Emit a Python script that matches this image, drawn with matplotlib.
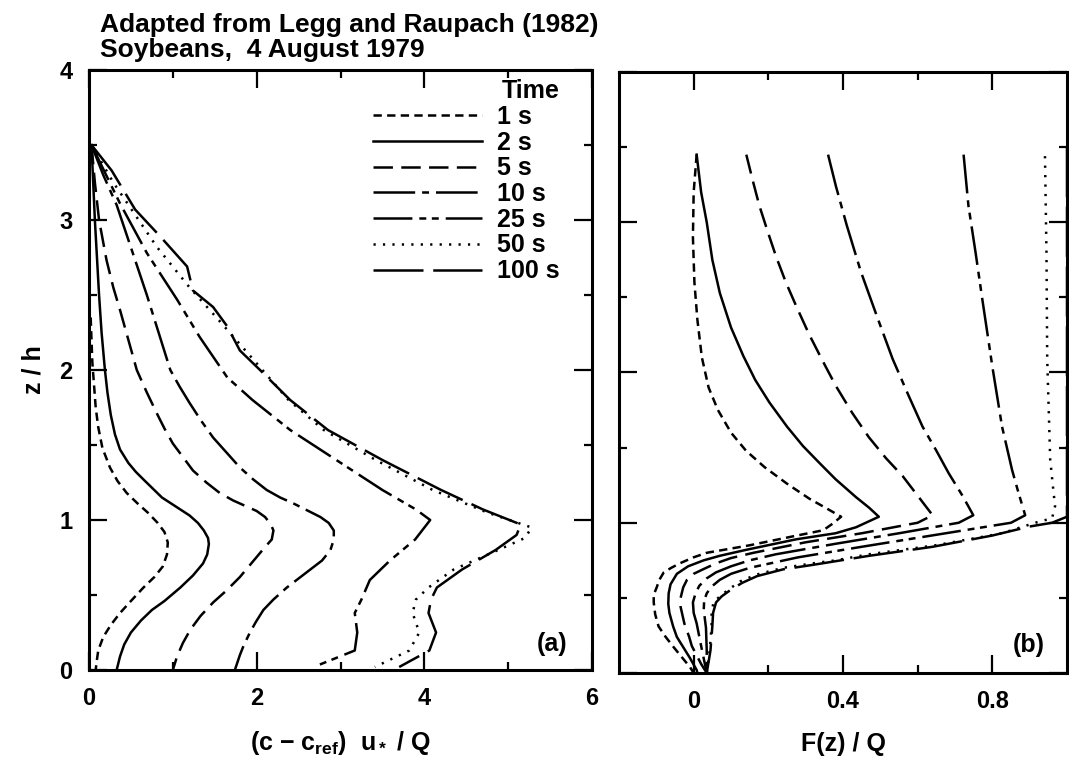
import matplotlib
matplotlib.use("Agg")
import matplotlib.pyplot as plt
from matplotlib.ticker import MultipleLocator, FixedLocator, NullFormatter

plt.rcParams['font.family'] = ['Liberation Sans', 'DejaVu Sans']
plt.rcParams['font.weight'] = 'bold'
plt.rcParams['axes.labelweight'] = 'bold'
plt.rcParams['mathtext.fontset'] = 'custom'
plt.rcParams['mathtext.rm'] = 'Liberation Sans:bold'
plt.rcParams['mathtext.it'] = 'Liberation Sans:bold'
plt.rcParams['mathtext.bf'] = 'Liberation Sans:bold'
plt.rcParams['mathtext.default'] = 'rm'
plt.rcParams['lines.scale_dashes'] = False

# ---------------- data ----------------
labels = ["1 s", "2 s", "5 s", "10 s", "25 s", "50 s", "100 s"]

# Panel (a): concentration profiles (x = (c - c_ref) u*/Q, z = z/h)
a1_z = [2.35, 2.2, 2.05, 1.9, 1.75, 1.62, 1.48, 1.35, 1.26, 1.18, 1.11, 1.05, 0.98, 0.92, 0.85, 0.77, 0.69, 0.62, 0.55, 0.46, 0.38, 0.30, 0.22, 0.13, 0.05, 0.0]
a1_x = [0.02, 0.03, 0.04, 0.06, 0.08, 0.11, 0.16, 0.25, 0.34, 0.45, 0.58, 0.70, 0.82, 0.90, 0.94, 0.93, 0.88, 0.78, 0.65, 0.50, 0.37, 0.26, 0.17, 0.11, 0.09, 0.08]

a2_z = [3.5, 3.25, 3.0, 2.75, 2.5, 2.25, 2.0, 1.85, 1.7, 1.57, 1.47, 1.38, 1.32, 1.27, 1.21, 1.15, 1.11, 1.07, 1.03, 0.98, 0.93, 0.88, 0.84, 0.77, 0.71, 0.63, 0.55, 0.46, 0.40, 0.33, 0.25, 0.17, 0.09, 0.0]
a2_x = [0.03, 0.05, 0.07, 0.095, 0.12, 0.15, 0.19, 0.22, 0.26, 0.31, 0.37, 0.47, 0.56, 0.65, 0.76, 0.87, 0.98, 1.09, 1.2, 1.3, 1.37, 1.42, 1.43, 1.41, 1.36, 1.24, 1.09, 0.9, 0.75, 0.62, 0.5, 0.42, 0.37, 0.33]

a5_z = [3.5, 3.25, 3.0, 2.73, 2.55, 2.4, 2.2, 2.0, 1.85, 1.71, 1.61, 1.51, 1.42, 1.33, 1.25, 1.18, 1.13, 1.09, 1.06, 1.02, 0.97, 0.93, 0.87, 0.82, 0.72, 0.62, 0.53, 0.45, 0.36, 0.27, 0.18, 0.09, 0.0]
a5_x = [0.03, 0.07, 0.12, 0.21, 0.29, 0.37, 0.47, 0.57, 0.69, 0.81, 0.9, 1.0, 1.12, 1.24, 1.4, 1.56, 1.72, 1.88, 2.0, 2.1, 2.17, 2.2, 2.18, 2.1, 1.95, 1.8, 1.64, 1.48, 1.33, 1.21, 1.12, 1.05, 1.0]

a10_z = [3.5, 3.3, 3.1, 2.8, 2.5, 2.25, 2.0, 1.89, 1.78, 1.66, 1.55, 1.45, 1.35, 1.27, 1.2, 1.15, 1.11, 1.065, 1.02, 0.98, 0.93, 0.87, 0.8, 0.73, 0.67, 0.61, 0.55, 0.47, 0.4, 0.32, 0.25, 0.17, 0.1, 0.0]
a10_x = [0.03, 0.17, 0.33, 0.51, 0.69, 0.83, 0.97, 1.08, 1.2, 1.34, 1.48, 1.64, 1.8, 1.96, 2.12, 2.28, 2.44, 2.6, 2.76, 2.86, 2.92, 2.92, 2.88, 2.78, 2.64, 2.5, 2.36, 2.2, 2.08, 1.99, 1.92, 1.85, 1.8, 1.74]

a25_z = [3.5, 3.11, 2.78, 2.47, 2.22, 1.95, 1.8, 1.6, 1.4, 1.2, 1.07, 1.0, 0.87, 0.73, 0.6, 0.47, 0.38, 0.25, 0.13, 0.02]
a25_x = [0.03, 0.37, 0.69, 1.05, 1.32, 1.65, 1.95, 2.4, 2.95, 3.5, 3.9, 4.07, 3.89, 3.59, 3.35, 3.25, 3.17, 3.2, 3.17, 2.68]

a50_z = [3.5, 3.25, 2.82, 2.55, 2.35, 2.07, 1.8, 1.6, 1.4, 1.2, 1.05, 0.95, 0.88, 0.78, 0.67, 0.55, 0.47, 0.38, 0.25, 0.13, 0.02]
a50_x = [0.03, 0.29, 0.81, 1.2, 1.52, 1.96, 2.38, 2.8, 3.42, 4.1, 4.75, 5.28, 5.2, 4.8, 4.35, 4.05, 3.9, 3.86, 3.94, 3.82, 3.41]

a100_z = [3.5, 3.33, 3.07, 2.89, 2.69, 2.53, 2.42, 2.29, 2.13, 2.0, 1.8, 1.6, 1.4, 1.2, 1.07, 0.97, 0.9, 0.8, 0.67, 0.55, 0.47, 0.38, 0.25, 0.13, 0.02]
a100_x = [0.03, 0.27, 0.55, 0.85, 1.17, 1.24, 1.48, 1.65, 1.8, 2.04, 2.4, 2.85, 3.5, 4.2, 4.7, 5.15, 5.1, 4.85, 4.45, 4.15, 4.08, 4.05, 4.14, 4.06, 3.7]

# Panel (b): flux profiles (F = F(z)/Q, z = z/h)
b1_z = [3.45, 3.2, 2.9, 2.6, 2.35, 2.1, 1.9, 1.75, 1.6, 1.48, 1.37, 1.26, 1.16, 1.09, 1.04, 0.99, 0.95, 0.91, 0.85, 0.80, 0.77, 0.73, 0.70, 0.67, 0.62, 0.57, 0.52, 0.47, 0.39, 0.31, 0.24, 0.17, 0.10, 0.04, 0.0]
b1_f = [0.008, 0.0, -0.002, 0.002, 0.01, 0.022, 0.04, 0.065, 0.1, 0.14, 0.19, 0.25, 0.31, 0.36, 0.395, 0.37, 0.347, 0.267, 0.15, 0.035, 0.0, -0.037, -0.06, -0.08, -0.092, -0.099, -0.107, -0.107, -0.103, -0.094, -0.075, -0.053, -0.03, -0.01, 0.0]

b2_z = [3.45, 3.2, 3.0, 2.75, 2.53, 2.3, 2.11, 1.95, 1.8, 1.64, 1.51, 1.39, 1.29, 1.17, 1.1, 1.04, 0.97, 0.93, 0.89, 0.82, 0.78, 0.75, 0.71, 0.66, 0.59, 0.53, 0.46, 0.40, 0.31, 0.24, 0.16, 0.10, 0.02, 0.0]
b2_f = [0.008, 0.02, 0.035, 0.05, 0.07, 0.1, 0.133, 0.165, 0.203, 0.25, 0.293, 0.34, 0.38, 0.435, 0.47, 0.496, 0.435, 0.38, 0.275, 0.141, 0.07, 0.027, -0.015, -0.045, -0.062, -0.067, -0.068, -0.065, -0.055, -0.045, -0.025, -0.01, 0.008, 0.01]

b5_z = [3.45, 3.28, 3.11, 2.94, 2.77, 2.6, 2.44, 2.25, 2.07, 1.91, 1.73, 1.57, 1.43, 1.31, 1.18, 1.05, 1.0, 0.93, 0.87, 0.80, 0.765, 0.73, 0.69, 0.66, 0.62, 0.57, 0.50, 0.44, 0.33, 0.24, 0.18, 0.06, 0.0]
b5_f = [0.141, 0.158, 0.176, 0.198, 0.221, 0.247, 0.275, 0.31, 0.347, 0.381, 0.425, 0.469, 0.515, 0.56, 0.60, 0.64, 0.60, 0.45, 0.30, 0.16, 0.10, 0.06, 0.025, 0.0, -0.018, -0.028, -0.035, -0.035, -0.025, -0.012, -0.005, 0.02, 0.035]

b10_z = [3.45, 3.24, 2.98, 2.67, 2.38, 2.09, 1.85, 1.64, 1.48, 1.33, 1.18, 1.05, 1.0, 0.93, 0.86, 0.79, 0.75, 0.71, 0.67, 0.63, 0.58, 0.53, 0.47, 0.40, 0.33, 0.18, 0.06, 0.0]
b10_f = [0.36, 0.381, 0.41, 0.448, 0.49, 0.533, 0.575, 0.613, 0.65, 0.683, 0.72, 0.749, 0.71, 0.55, 0.38, 0.22, 0.15, 0.10, 0.06, 0.035, 0.015, 0.005, -0.002, 0.0, 0.008, 0.02, 0.03, 0.035]

b25_z = [3.45, 3.11, 2.8, 2.49, 2.04, 1.64, 1.35, 1.2, 1.05, 1.0, 0.92, 0.84, 0.77, 0.70, 0.66, 0.62, 0.575, 0.53, 0.48, 0.42, 0.30, 0.15, 0.0]
b25_f = [0.723, 0.736, 0.755, 0.773, 0.80, 0.826, 0.853, 0.87, 0.888, 0.85, 0.65, 0.45, 0.28, 0.15, 0.10, 0.07, 0.048, 0.035, 0.028, 0.027, 0.033, 0.035, 0.035]

b50_z = [3.44, 2.8, 2.09, 1.42, 1.25, 1.11, 1.03, 1.0, 0.93, 0.85, 0.79, 0.75, 0.73, 0.70, 0.655, 0.61, 0.56, 0.51, 0.47, 0.40, 0.31, 0.15, 0.0]
b50_f = [0.941, 0.945, 0.947, 0.955, 0.962, 0.968, 0.96, 0.915, 0.826, 0.648, 0.469, 0.381, 0.32, 0.24, 0.168, 0.125, 0.096, 0.07, 0.053, 0.048, 0.048, 0.043, 0.035]

b100_z = [3.5, 1.04, 1.0, 0.975, 0.915, 0.84, 0.78, 0.72, 0.69, 0.645, 0.60, 0.555, 0.51, 0.47, 0.40, 0.31, 0.15, 0.0]
b100_f = [1.0, 1.0, 0.96, 0.9, 0.8, 0.64, 0.47, 0.32, 0.24, 0.17, 0.13, 0.10, 0.075, 0.06, 0.052, 0.05, 0.045, 0.035]

a_series = [(a1_x, a1_z), (a2_x, a2_z), (a5_x, a5_z), (a10_x, a10_z),
            (a25_x, a25_z), (a50_x, a50_z), (a100_x, a100_z)]
b_series = [(b1_f, b1_z), (b2_f, b2_z), (b5_f, b5_z), (b10_f, b10_z),
            (b25_f, b25_z), (b50_f, b50_z), (b100_f, b100_z)]

# ---------------- styles ----------------
styles = [
    (0, (6, 3.8)),                    # 1 s short dashes
    'solid',                          # 2 s
    (0, (14, 6)),                     # 5 s long dashes
    (0, (30, 5, 5, 5)),               # 10 s dash-dot
    (0, (28, 5, 5, 4, 5, 5)),         # 25 s dash-dot-dot
    (0, (1.6, 5.2)),                  # 50 s dotted
    (0, (36, 7)),                     # 100 s long dash
]
LW = 1.8
FS = 18

W, H = 1069, 759
fig = plt.figure(figsize=(W / 100, H / 100), dpi=100)

axa = fig.add_axes([89 / W, 1 - 670 / H, (592 - 89) / W, 600 / H])
axb = fig.add_axes([619 / W, 1 - 673 / H, (1067 - 619) / W, 601 / H])

for (x, z), ls, lab in zip(a_series, styles, labels):
    axa.plot(x, z, color='black', lw=LW, linestyle=ls, label=lab,
             dash_capstyle='butt', solid_joinstyle='round')
for (f, z), ls in zip(b_series, styles):
    axb.plot(f, z, color='black', lw=LW, linestyle=ls,
             dash_capstyle='butt', solid_joinstyle='round')

axa.set_xlim(0, 6)
axa.set_ylim(0, 4)
axb.set_xlim(-0.2, 1.0)
axb.set_ylim(0, 4)

for ax in (axa, axb):
    for sp in ax.spines.values():
        sp.set_linewidth(2.2)
    ax.tick_params(which='both', direction='in', top=True, right=True,
                   width=1.6, labelsize=17, pad=12)
    ax.tick_params(which='major', length=13)
    ax.tick_params(which='minor', length=5.5)
    ax.yaxis.set_major_locator(MultipleLocator(1))
    ax.yaxis.set_minor_locator(MultipleLocator(0.5))

axa.xaxis.set_major_locator(FixedLocator([0, 2, 4, 6]))
axa.xaxis.set_minor_locator(FixedLocator([1, 3, 5]))
axb.xaxis.set_major_locator(FixedLocator([0, 0.4, 0.8]))
axb.xaxis.set_minor_locator(FixedLocator([0.2, 0.6]))
axb.xaxis.set_major_formatter(plt.FuncFormatter(lambda v, p: '0' if v == 0 else f'{v:.1f}'))
axb.yaxis.set_major_formatter(NullFormatter())

axa.set_xlabel(r'(c $-$ c$_{\rm ref}$)  u$_*$ / Q', fontsize=FS, labelpad=14,
               fontweight='bold')
axb.set_xlabel('F(z) / Q', fontsize=FS, labelpad=14, fontweight='bold')
axa.set_ylabel('z / h', fontsize=FS, labelpad=10, fontweight='bold')

axa.text(0.92, 0.043, '(a)', transform=axa.transAxes, fontsize=FS,
         ha='center', va='center', fontweight='bold')
axb.text(0.915, 0.047, '(b)', transform=axb.transAxes, fontsize=FS,
         ha='center', va='center', fontweight='bold')

leg = axa.legend(loc='upper right', bbox_to_anchor=(0.936, 0.985),
                 frameon=False, fontsize=FS, title='Time',
                 title_fontproperties={'size': FS, 'weight': 'bold'},
                 handlelength=4.36, handletextpad=0.6, labelspacing=0.07,
                 borderpad=0, borderaxespad=0, alignment='right')

fig.text(100 / W, 1 - 32 / H, 'Adapted from Legg and Raupach (1982)',
         fontsize=19, va='baseline', ha='left', fontweight='bold')
fig.text(100 / W, 1 - 57 / H, 'Soybeans,  4 August 1979',
         fontsize=19, va='baseline', ha='left', fontweight='bold')

fig.savefig('out.png', dpi=100)
